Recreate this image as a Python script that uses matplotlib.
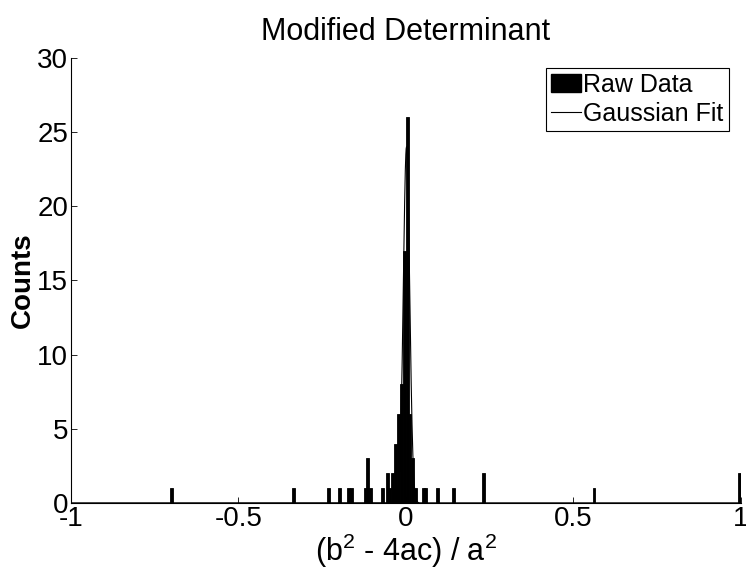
import numpy as np
import matplotlib
matplotlib.use("Agg")
import matplotlib.pyplot as plt
from matplotlib.patches import Patch
from matplotlib.lines import Line2D

plt.rcParams['font.family'] = ['Liberation Sans', 'DejaVu Sans']
plt.rcParams['mathtext.fontset'] = 'custom'
plt.rcParams['mathtext.rm'] = 'Liberation Sans'
plt.rcParams['mathtext.it'] = 'Liberation Sans'

# Histogram bars: bin centres and counts
bin_centers = [-0.700, -0.335, -0.231, -0.198, -0.171, -0.163, -0.122, -0.114, -0.106,
               -0.069, -0.055, -0.048, -0.041, -0.032,
               -0.0300, -0.0215, -0.0130, -0.0045, 0.0040, 0.0125, 0.0210, 0.0295,
               0.052, 0.059, 0.0945, 0.143, 0.231, 0.562, 0.997]
counts = [1, 1, 1, 1, 1, 1, 1, 3, 1,
          1, 2, 1, 2, 1,
          4, 6, 8, 17, 26, 6, 3, 1,
          1, 1, 1, 1, 2, 1, 2]
bin_width = 0.0085

# Gaussian fit parameters
fit_amplitude = 24.0
fit_mean = 0.002
fit_sigma = 0.0095

x_ticks = [-1, -0.5, 0, 0.5, 1]
x_tick_labels = ['-1', '-0.5', '0', '0.5', '1']
y_ticks = [0, 5, 10, 15, 20, 25, 30]

fig = plt.figure(figsize=(7.46, 5.78), dpi=100)
ax = fig.add_axes([0.095, 0.130, 0.898, 0.770])

ax.bar(bin_centers, counts, width=bin_width, color='black', edgecolor='black',
       linewidth=0.6, align='center')

xf = np.linspace(-1, 1, 4001)
yf = fit_amplitude * np.exp(-(xf - fit_mean) ** 2 / (2 * fit_sigma ** 2))
ax.plot(xf, yf, color='black', linewidth=0.8)

ax.set_xlim(-1, 1)
ax.set_ylim(0, 30)
ax.set_xticks(x_ticks)
ax.set_xticklabels(x_tick_labels)
ax.set_yticks(y_ticks)
ax.tick_params(direction='in', length=4, width=0.6, labelsize=20)
ax.tick_params(axis='x', pad=2)
ax.tick_params(axis='y', pad=2)
for s in ['top', 'right']:
    ax.spines[s].set_visible(False)
for s in ['left', 'bottom']:
    ax.spines[s].set_linewidth(0.8)

ax.set_title('Modified Determinant', fontsize=22, pad=13)
ax.set_xlabel('(b$^2$ - 4ac) / a$^2$', fontsize=22, labelpad=0)
ax.set_ylabel('Counts', fontsize=20, fontweight='bold', labelpad=1)

handles = [Patch(facecolor='black', edgecolor='black'),
           Line2D([0], [0], color='black', linewidth=0.8)]
leg = ax.legend(handles, ['Raw Data', 'Gaussian Fit'], loc='upper right',
                bbox_to_anchor=(0.982, 0.978), fontsize=18, frameon=True, fancybox=False,
                edgecolor='black', framealpha=1, handlelength=1.2, handletextpad=0.1,
                borderpad=0.2, labelspacing=0.2, borderaxespad=0)
leg.get_frame().set_linewidth(0.8)

fig.savefig('out.png', dpi=100)
